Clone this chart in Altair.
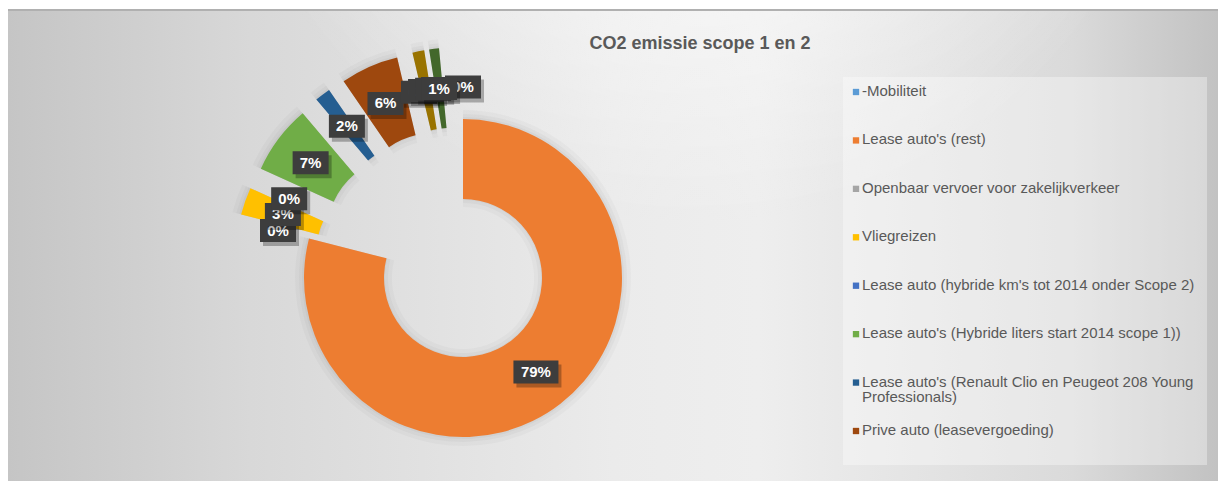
import textwrap
import altair as alt
import pandas as pd

TITLE = "CO2 emissie scope 1 en 2"

names = [
    "-Mobiliteit",
    "Lease auto's (rest)",
    "Openbaar vervoer voor zakelijkverkeer",
    "Vliegreizen",
    "Lease auto (hybride km's tot 2014 onder Scope 2)",
    "Lease auto's (Hybride liters start 2014 scope 1))",
    "Lease auto's (Renault Clio en Peugeot 208 Young Professionals)",
    "Prive auto (leasevergoeding)",
    "Reeks 9",
    "Reeks 10",
    "Reeks 11",
    "Reeks 12",
    "Reeks 13",
]
values = [0.0, 79.0, 0.0, 2.8, 0.0, 7.0, 1.6, 5.9, 0.0, 1.2, 0.0, 1.0, 1.5]
shown = [True] * 12 + [False]
colors = ["#5B9BD5", "#ED7D31", "#A5A5A5", "#FFC000", "#4472C4", "#70AD47",
          "#255E91", "#9E480E", "#636363", "#997300", "#264478", "#43682B",
          "rgba(0,0,0,0)"]
LEGEND_COUNT = 8

FONT = "Liberation Sans"
W, H = 1225, 481
CX, CY = 463, 278
R_OUT, R_IN = 159, 79
EXPLODE = 72
LABEL_R = 119

df = pd.DataFrame({"idx": list(range(len(names))), "name": names,
                   "value": values, "shown": shown})

color_scale = alt.Scale(domain=names, range=colors)

# ---------- background ----------
one = alt.Data(values=[{}])
bg = alt.Chart(one).mark_rect(
    color=alt.LinearGradient(
        gradient="linear", x1=0, x2=1, y1=0, y2=0,
        stops=[alt.GradientStop(color="#c5c5c5", offset=0),
               alt.GradientStop(color="#d8d8d8", offset=0.2),
               alt.GradientStop(color="#ebebeb", offset=0.5),
               alt.GradientStop(color="#eeeeee", offset=0.62),
               alt.GradientStop(color="#dadada", offset=0.88),
               alt.GradientStop(color="#c2c2c2", offset=1)])
).encode(x=alt.value(8), x2=alt.value(1218), y=alt.value(10), y2=alt.value(481))

glow = alt.Chart(one).mark_rect(
    color=alt.RadialGradient(
        gradient="radial", x1=0.57, y1=0.08, r1=0, x2=0.57, y2=0.08, r2=0.4,
        stops=[alt.GradientStop(color="rgba(255,255,255,0.9)", offset=0),
               alt.GradientStop(color="rgba(255,255,255,0)", offset=1)])
).encode(x=alt.value(8), x2=alt.value(1218), y=alt.value(10), y2=alt.value(481))

top_line = alt.Chart(one).mark_rule(color="#b0b0b0", strokeWidth=2).encode(
    x=alt.value(8), x2=alt.value(1218), y=alt.value(10))

legend_box = alt.Chart(one).mark_rect(color="white", opacity=0.35).encode(
    x=alt.value(843), x2=alt.value(1207), y=alt.value(77), y2=alt.value(465))

title = alt.Chart(alt.Data(values=[{"t": TITLE}])).mark_text(
    font=FONT, fontSize=18, fontWeight="bold", color="#595959",
    align="center", baseline="middle"
).encode(text="t:N", x=alt.value(700), y=alt.value(44))

# ---------- donut ----------
base = (
    alt.Chart(df)
    .transform_joinaggregate(total="sum(value)", vmax="max(value)")
    .transform_window(cum="sum(value)", sort=[alt.SortField("idx")], frame=[None, 0])
    .transform_calculate(off=f"datum.value == datum.vmax ? 0 : {EXPLODE}")
    .transform_calculate(mid="2*PI*(datum.cum - datum.value/2)/datum.total")
    .transform_calculate(cx=f"{CX} + datum.off*sin(datum.mid)",
                         cy=f"{CY} - datum.off*cos(datum.mid)")
)

arc_enc = dict(
    theta=alt.Theta("value:Q", stack=True),
    order=alt.Order("idx:Q", sort="ascending"),
    x=alt.X("cx:Q", scale=None),
    y=alt.Y("cy:Q", scale=None),
)

vis = base.transform_filter("datum.shown && datum.value > 0")
shadow1 = vis.mark_arc(radius=R_OUT + 9, radius2=R_IN - 8, color="black",
                       opacity=0.022).encode(**arc_enc)
shadow2 = vis.mark_arc(radius=R_OUT + 5, radius2=R_IN - 4, color="black",
                       opacity=0.028).encode(**arc_enc)
shadow3 = vis.mark_arc(radius=R_OUT + 2, radius2=R_IN - 1, color="black",
                       opacity=0.03).encode(**arc_enc)

arcs = base.mark_arc(radius=R_OUT, radius2=R_IN).encode(
    color=alt.Color("name:N", scale=color_scale, legend=None), **arc_enc)

# ---------- data labels ----------
lab_base = (
    base.transform_filter("datum.shown")
    .transform_calculate(lab="format(datum.value/datum.total, '.0%')")
    .transform_calculate(lr=f"datum.off + {LABEL_R}")
    .transform_calculate(lx=f"{CX} + datum.lr*sin(datum.mid)",
                         ly=f"{CY} - datum.lr*cos(datum.mid)",
                         bw="18 + 9*length(datum.lab)")
    .transform_calculate(bx1="datum.lx - datum.bw/2", bx2="datum.lx + datum.bw/2",
                         by1="datum.ly - 11.5", by2="datum.ly + 11.5",
                         sx1="datum.lx - datum.bw/2 + 3", sx2="datum.lx + datum.bw/2 + 3",
                         sy1="datum.ly - 11.5 + 4", sy2="datum.ly + 11.5 + 4")
)

label_layers = []
for i, s in enumerate(shown):
    if not s:
        continue
    b = lab_base.transform_filter(f"datum.idx == {i}")
    label_layers.append(b.mark_rect(color="black", opacity=0.28).encode(
        x=alt.X("sx1:Q", scale=None), x2="sx2:Q",
        y=alt.Y("sy1:Q", scale=None), y2="sy2:Q"))
    label_layers.append(b.mark_rect(color="#3d3d3d").encode(
        x=alt.X("bx1:Q", scale=None), x2="bx2:Q",
        y=alt.Y("by1:Q", scale=None), y2="by2:Q"))
    label_layers.append(b.mark_text(
        font=FONT, fontSize=15, fontWeight="bold", color="white",
        align="center", baseline="middle").encode(
        x=alt.X("lx:Q", scale=None), y=alt.Y("ly:Q", scale=None), text="lab:N"))

# ---------- legend ----------
legend_names = names[:LEGEND_COUNT]
leg_df = pd.DataFrame({"name": legend_names,
                       "lab": ["\n".join(textwrap.wrap(n, 50)) for n in legend_names]})
leg_y = alt.Y("name:N", scale=alt.Scale(type="point", domain=legend_names,
                                         range=[92, 431], padding=0), axis=None)
leg_sym = alt.Chart(leg_df).mark_square(size=40, opacity=1).encode(
    x=alt.value(856), y=leg_y,
    color=alt.Color("name:N", scale=color_scale, legend=None))
leg_txt = alt.Chart(leg_df).mark_text(
    font=FONT, fontSize=15, color="#595959", align="left", baseline="top",
    dy=-8, lineBreak="\n", lineHeight=15).encode(
    x=alt.value(862), y=leg_y, text="lab:N")

chart = alt.layer(
    bg, glow, top_line, legend_box, title,
    shadow1, shadow2, shadow3, arcs, *label_layers,
    leg_sym, leg_txt,
).resolve_scale(y="independent", x="independent").properties(
    width=W, height=H, padding=0, autosize=alt.AutoSizeParams(type="none"),
    background="white",
).configure_view(stroke=None)

chart.save("out.html", embed_options={"renderer": "svg", "actions": False})
